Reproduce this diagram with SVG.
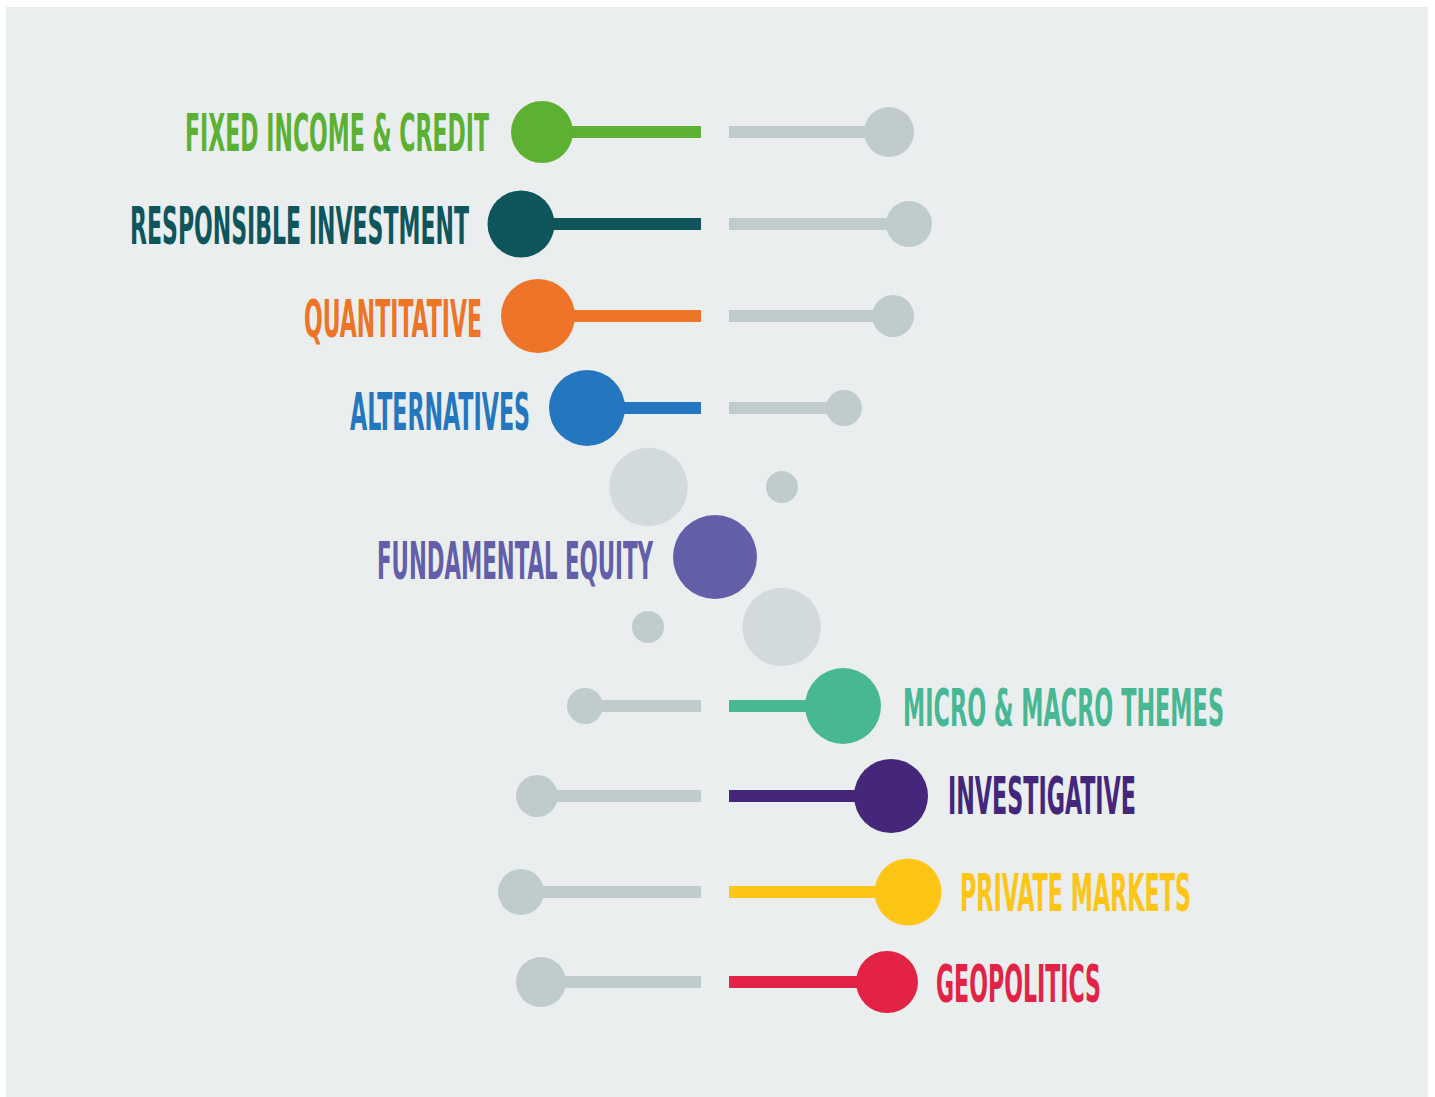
<svg xmlns="http://www.w3.org/2000/svg" width="1435" height="1097" viewBox="0 0 1435 1097">
  <style>
    .lbl { font-family: "DejaVu Sans Condensed", "DejaVu Sans", "Liberation Sans", sans-serif; font-weight: bold; font-stretch: condensed; font-size: 52px; }
    .bar { stroke-width: 12; fill: none; stroke-linecap: butt; }
    .track { stroke: #C0CBCC; }
    .dot { fill: #C0CBCC; }
    .halo { fill: #D2DADB; }
  </style>

  <rect width="1435" height="1097" fill="#FFFFFF"/>
  <rect x="6" y="7" width="1422" height="1090" fill="#EAEEEF"/>

  <!-- bars: coloured segment and grey track for every row -->
  <g id="connectors">
    <line class="bar" x1="542" y1="132" x2="701" y2="132" stroke="#5CB133"/>
    <line class="bar track" x1="729" y1="132" x2="889" y2="132"/>
    <line class="bar" x1="521" y1="224" x2="701" y2="224" stroke="#0E555C"/>
    <line class="bar track" x1="729" y1="224" x2="909" y2="224"/>
    <line class="bar" x1="538" y1="316" x2="701" y2="316" stroke="#EE7428"/>
    <line class="bar track" x1="729" y1="316" x2="893" y2="316"/>
    <line class="bar" x1="587" y1="408" x2="701" y2="408" stroke="#2476BE"/>
    <line class="bar track" x1="729" y1="408" x2="844" y2="408"/>
    <line class="bar track" x1="585" y1="706" x2="701" y2="706"/>
    <line class="bar" x1="729" y1="706" x2="843" y2="706" stroke="#48B793"/>
    <line class="bar track" x1="537" y1="796" x2="701" y2="796"/>
    <line class="bar" x1="729" y1="796" x2="891" y2="796" stroke="#44277A"/>
    <line class="bar track" x1="521" y1="892" x2="701" y2="892"/>
    <line class="bar" x1="729" y1="892" x2="908" y2="892" stroke="#FDC516"/>
    <line class="bar track" x1="541" y1="982" x2="701" y2="982"/>
    <line class="bar" x1="729" y1="982" x2="887" y2="982" stroke="#E32345"/>
  </g>

  <!-- labels are set in a condensed face, squeezed to 45% width -->
  <g id="fixed-income">
    <circle cx="542" cy="132" r="31" fill="#5CB133"/>
    <circle class="dot" cx="889" cy="132" r="25"/>
    <text class="lbl" transform="translate(185 151) scale(0.45 1)" textLength="675.6" lengthAdjust="spacingAndGlyphs" fill="#5CB133">FIXED INCOME &amp; CREDIT</text>
  </g>

  <g id="responsible-investment">
    <circle cx="521" cy="224" r="33.5" fill="#0E555C"/>
    <circle class="dot" cx="909" cy="224" r="23"/>
    <text class="lbl" transform="translate(130 244) scale(0.45 1)" textLength="753.3" lengthAdjust="spacingAndGlyphs" fill="#0E555C">RESPONSIBLE INVESTMENT</text>
  </g>

  <g id="quantitative">
    <circle cx="538" cy="316" r="37" fill="#EE7428"/>
    <circle class="dot" cx="893" cy="316" r="21"/>
    <text class="lbl" transform="translate(304 337) scale(0.45 1)" textLength="395.6" lengthAdjust="spacingAndGlyphs" fill="#EE7428">QUANTITATIVE</text>
  </g>

  <g id="alternatives">
    <circle cx="587" cy="408" r="38" fill="#2476BE"/>
    <circle class="dot" cx="844" cy="408" r="18"/>
    <text class="lbl" transform="translate(350 430) scale(0.45 1)" textLength="400" lengthAdjust="spacingAndGlyphs" fill="#2476BE">ALTERNATIVES</text>
  </g>

  <g id="fundamental-equity">
    <circle class="halo" cx="648.5" cy="487" r="39.3"/>
    <circle class="dot" cx="782" cy="487" r="16"/>
    <circle cx="715" cy="557" r="42" fill="#635EA8"/>
    <circle class="dot" cx="648" cy="627" r="16"/>
    <circle class="halo" cx="781.7" cy="627" r="39.3"/>
    <text class="lbl" transform="translate(377 579) scale(0.45 1)" textLength="613.3" lengthAdjust="spacingAndGlyphs" fill="#635EA8">FUNDAMENTAL EQUITY</text>
  </g>

  <g id="micro-macro-themes">
    <circle class="dot" cx="585" cy="706" r="18"/>
    <circle cx="843" cy="706" r="38" fill="#48B793"/>
    <text class="lbl" transform="translate(903 726) scale(0.45 1)" textLength="713.3" lengthAdjust="spacingAndGlyphs" fill="#48B793">MICRO &amp; MACRO THEMES</text>
  </g>

  <g id="investigative">
    <circle class="dot" cx="537" cy="796" r="21"/>
    <circle cx="891" cy="796" r="37" fill="#44277A"/>
    <text class="lbl" transform="translate(948 814) scale(0.45 1)" textLength="417.8" lengthAdjust="spacingAndGlyphs" fill="#44277A">INVESTIGATIVE</text>
  </g>

  <g id="private-markets">
    <circle class="dot" cx="521" cy="892" r="23"/>
    <circle cx="908" cy="892" r="33.5" fill="#FDC516"/>
    <text class="lbl" transform="translate(960 911) scale(0.45 1)" textLength="513.3" lengthAdjust="spacingAndGlyphs" fill="#FDC516">PRIVATE MARKETS</text>
  </g>

  <g id="geopolitics">
    <circle class="dot" cx="541" cy="982" r="25"/>
    <circle cx="887" cy="982" r="31" fill="#E32345"/>
    <text class="lbl" transform="translate(936 1002) scale(0.45 1)" textLength="366.7" lengthAdjust="spacingAndGlyphs" fill="#E32345">GEOPOLITICS</text>
  </g>
</svg>
